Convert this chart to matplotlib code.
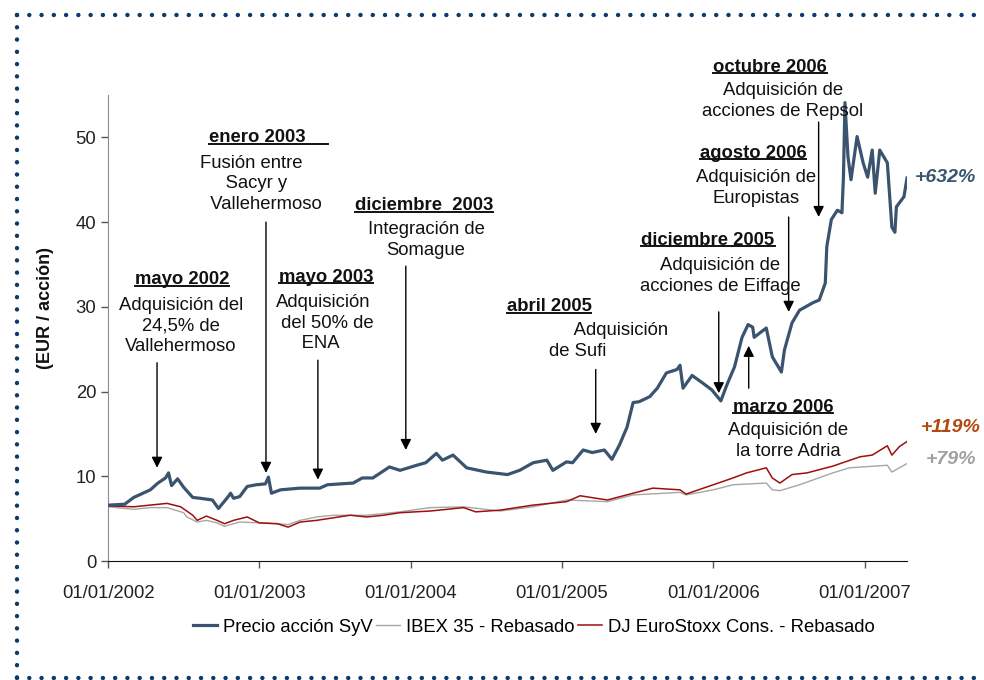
import matplotlib
matplotlib.use("Agg")
import matplotlib.pyplot as plt
from matplotlib.lines import Line2D

plt.rcParams['font.family'] = ['Liberation Sans', 'DejaVu Sans']
plt.rcParams['font.size'] = 13.3

# ---------------- datos (año decimal, valor) ----------------
syv_t = [2002.00, 2002.01, 2002.11, 2002.17, 2002.28, 2002.33, 2002.38, 2002.40, 2002.42, 2002.46,
         2002.50, 2002.56, 2002.61, 2002.69, 2002.73, 2002.79, 2002.81, 2002.83, 2002.87, 2002.92,
         2002.98, 2003.04, 2003.06, 2003.08, 2003.14, 2003.27, 2003.40, 2003.45, 2003.62, 2003.68,
         2003.75, 2003.86, 2003.93, 2004.04, 2004.10, 2004.17, 2004.21, 2004.28, 2004.37, 2004.50,
         2004.64, 2004.72, 2004.81, 2004.90, 2004.94, 2005.03, 2005.07, 2005.14, 2005.20, 2005.28,
         2005.33, 2005.38, 2005.43, 2005.47, 2005.51, 2005.58, 2005.63, 2005.69, 2005.76, 2005.78,
         2005.80, 2005.86, 2005.93, 2005.99, 2006.05, 2006.09, 2006.14, 2006.19, 2006.23, 2006.26,
         2006.27, 2006.35, 2006.39, 2006.45, 2006.47, 2006.52, 2006.57, 2006.66, 2006.70, 2006.74,
         2006.75, 2006.78, 2006.82, 2006.85, 2006.86, 2006.87, 2006.89, 2006.91, 2006.95, 2006.99,
         2007.02, 2007.05, 2007.07, 2007.10, 2007.15, 2007.18, 2007.20, 2007.21, 2007.26, 2007.28]
syv_v = [6.6, 6.6, 6.7, 7.5, 8.4, 9.2, 9.8, 10.4, 8.9, 9.7,
         8.7, 7.5, 7.4, 7.2, 6.2, 7.5, 8.0, 7.4, 7.6, 8.8,
         9.0, 9.1, 9.9, 8.0, 8.4, 8.6, 8.6, 9.0, 9.2, 9.8,
         9.8, 11.1, 10.7, 11.3, 11.6, 12.7, 11.9, 12.5, 11.0, 10.5,
         10.2, 10.7, 11.6, 11.9, 10.7, 11.7, 11.6, 13.1, 12.8, 13.1,
         12.0, 13.7, 15.8, 18.7, 18.8, 19.4, 20.4, 22.2, 22.6, 23.1,
         20.4, 21.9, 21.0, 20.2, 18.9, 20.8, 22.9, 26.4, 27.9, 27.6,
         26.4, 27.5, 24.1, 22.3, 24.9, 28.1, 29.6, 30.5, 30.8, 32.8,
         37.1, 40.3, 41.4, 41.1, 45.3, 54.1, 47.7, 45.0, 50.1, 47.0,
         45.3, 48.5, 43.4, 48.5, 47.0, 39.4, 38.8, 41.8, 43.0, 45.2]

ibex_t = [2002.00, 2002.17, 2002.28, 2002.39, 2002.50, 2002.52, 2002.59, 2002.65, 2002.72, 2002.77,
          2002.87, 2003.00, 2003.12, 2003.19, 2003.27, 2003.38, 2003.49, 2003.60, 2003.71, 2003.93,
          2004.13, 2004.35, 2004.59, 2004.81, 2005.03, 2005.30, 2005.47, 2005.78, 2005.82, 2006.00,
          2006.13, 2006.35, 2006.39, 2006.44, 2006.57, 2006.79, 2006.90, 2007.15, 2007.18, 2007.23,
          2007.28]
ibex_v = [6.4, 6.1, 6.3, 6.3, 5.7, 5.2, 4.6, 4.8, 4.5, 4.1,
          4.6, 4.5, 4.4, 4.3, 4.8, 5.2, 5.4, 5.4, 5.4, 5.8,
          6.3, 6.4, 5.9, 6.4, 7.2, 7.0, 7.8, 8.1, 7.8, 8.4,
          9.0, 9.2, 8.4, 8.3, 9.0, 10.4, 11.0, 11.3, 10.5, 11.0,
          11.5]

dj_t = [2002.00, 2002.17, 2002.28, 2002.39, 2002.48, 2002.56, 2002.59, 2002.65, 2002.72, 2002.77,
        2002.83, 2002.92, 2003.00, 2003.12, 2003.19, 2003.27, 2003.38, 2003.49, 2003.60, 2003.71,
        2003.82, 2003.93, 2004.13, 2004.35, 2004.43, 2004.59, 2004.81, 2005.03, 2005.12, 2005.30,
        2005.47, 2005.60, 2005.78, 2005.82, 2006.00, 2006.13, 2006.22, 2006.35, 2006.39, 2006.44,
        2006.52, 2006.62, 2006.79, 2006.97, 2007.05, 2007.15, 2007.18, 2007.23, 2007.28]
dj_v = [6.5, 6.4, 6.6, 6.8, 6.4, 5.4, 4.8, 5.3, 4.8, 4.4,
        4.8, 5.2, 4.5, 4.4, 4.0, 4.6, 4.8, 5.1, 5.4, 5.2,
        5.4, 5.7, 5.9, 6.3, 5.8, 6.0, 6.6, 7.0, 7.7, 7.2,
        8.0, 8.6, 8.4, 7.9, 9.0, 9.8, 10.4, 11.0, 9.8, 9.2,
        10.2, 10.4, 11.2, 12.3, 12.5, 13.6, 12.5, 13.5, 14.1]

years = [2002, 2003, 2004, 2005, 2006, 2007]
year_labels = ['01/01/%d' % y for y in years]

# eventos: (fecha, punta flecha, cola flecha)
ev_t = [2002.324, 2003.044, 2003.387, 2003.968, 2005.223, 2006.036, 2006.234, 2006.498, 2006.696]
ev_tip = [11.0, 10.4, 9.6, 13.1, 15.0, 19.8, 25.4, 29.4, 40.6]
ev_tail = [23.4, 40.0, 23.7, 34.8, 22.6, 29.4, 20.4, 40.6, 51.8]

# textos: (cabecera, cuerpo, x cab, y cab, x cuerpo, y cuerpo, ha cuerpo, extra subrayado)
notes = [
    ("mayo 2002", "Adquisición del\n24,5% de\nVallehermoso", 182, 280, 181, 326, 'center', 0),
    ("enero 2003", "Fusión entre\n     Sacyr y\n  Vallehermoso", 257, 138, 200, 184, 'left', 23),
    ("mayo 2003", "Adquisición\n del 50% de\n     ENA", 326, 277, 276, 323, 'left', 0),
    ("diciembre  2003", "Integración de\nSomague", 424, 206, 426, 240, 'center', 0),
    ("abril 2005", "     Adquisición\nde Sufi", 549, 307, 549, 341, 'left', 0),
    ("diciembre 2005", "Adquisición de\nacciones de Eiffage", 708, 240, 720, 276, 'center', 0),
    ("marzo 2006", "Adquisición de\nla torre Adria", 783, 407, 788, 441, 'center', 0),
    ("agosto 2006", "Adquisición de\nEuropistas", 753, 153, 756, 188, 'center', 0),
    ("octubre 2006", "Adquisición de\nacciones de Repsol", 770, 67, 783, 101, 'center', 0),
]

W, H = 984, 680
c_syv = '#3A5470'
c_ibex = '#A6A6A6'
c_dj = '#9C0F0F'

fig = plt.figure(figsize=(W / 100, H / 100), dpi=100)
ax = fig.add_axes([108 / W, 1 - 561 / H, (907 - 108) / W, (561 - 95) / H])

ax.plot(syv_t, syv_v, color=c_syv, lw=2.3, label='Precio acción SyV', zorder=3)
ax.plot(ibex_t, ibex_v, color=c_ibex, lw=1.0, label='IBEX 35 - Rebasado', zorder=2)
ax.plot(dj_t, dj_v, color=c_dj, lw=1.1, label='DJ EuroStoxx Cons. - Rebasado', zorder=2)

ax.set_xlim(2002.0, 2007.28)
ax.set_ylim(0, 55)
ax.set_yticks([0, 10, 20, 30, 40, 50])
ax.set_xticks(years)
ax.set_xticklabels(year_labels)
ax.tick_params(axis='both', labelsize=13.3, colors='#222222', length=5, width=1)
ax.tick_params(axis='x', pad=12, color='#555555')
ax.tick_params(axis='y', color='#555555')
for s in ['top', 'right']:
    ax.spines[s].set_visible(False)
ax.spines['left'].set_color('#8C8C8C')
ax.spines['bottom'].set_color('#111111')

for t, tip, tail in zip(ev_t, ev_tip, ev_tail):
    ax.annotate('', xy=(t, tip), xytext=(t, tail),
                arrowprops=dict(arrowstyle='-|>', color='black', lw=1.0,
                                mutation_scale=16, shrinkA=0, shrinkB=0))

fig.text(45 / W, 1 - 308 / H, '(EUR / acción)', rotation=90, ha='center', va='center',
         fontsize=13, fontweight='bold', color='#111111')

headers = []
for head, body, hx, hy, bx, by, ha, extra in notes:
    th = fig.text(hx / W, 1 - hy / H, head, ha='center', va='center',
                  fontsize=13.3, fontweight='bold', color='#111111')
    headers.append((th, extra))
    fig.text(bx / W, 1 - by / H, body, ha=ha, va='center', fontsize=13.3,
             color='#111111', linespacing=1.25, multialignment=ha)

fig.text(945 / W, 1 - 177 / H, '+632%', ha='center', va='center', fontsize=14,
         fontweight='bold', fontstyle='italic', color=c_syv)
fig.text(951 / W, 1 - 427 / H, '+119%', ha='center', va='center', fontsize=14,
         fontweight='bold', fontstyle='italic', color='#B0480E')
fig.text(951 / W, 1 - 460 / H, '+79%', ha='center', va='center', fontsize=14,
         fontweight='bold', fontstyle='italic', color='#A0A0A0')

fig.legend(loc='center', bbox_to_anchor=(534 / W, 1 - 627 / H), ncol=3, frameon=False,
           fontsize=13.3, handlelength=1.3, handletextpad=0.33, columnspacing=0.17,
           borderaxespad=0)

# subrayado de cabeceras
fig.canvas.draw()
r = fig.canvas.get_renderer()
for th, extra in headers:
    bb = th.get_window_extent(r)
    y = (bb.y0 + 2.5) / H
    fig.add_artist(Line2D([bb.x0 / W, (bb.x1 + extra) / W], [y, y],
                          transform=fig.transFigure, color='#111111', lw=1.4))

# marco punteado
dot = dict(transform=fig.transFigure, color='#0B3A6E', lw=3.2,
           linestyle=(0, (0.01, 2.75)), solid_capstyle='round', dash_capstyle='round')
fig.add_artist(Line2D([17 / W, 1.0], [1 - 15 / H, 1 - 15 / H], **dot))
fig.add_artist(Line2D([17 / W, 17 / W], [1 - 15 / H, 0.0], **dot))
fig.add_artist(Line2D([17 / W, 1.0], [1 - 678 / H, 1 - 678 / H], **dot))

fig.savefig('out.png', dpi=100)
